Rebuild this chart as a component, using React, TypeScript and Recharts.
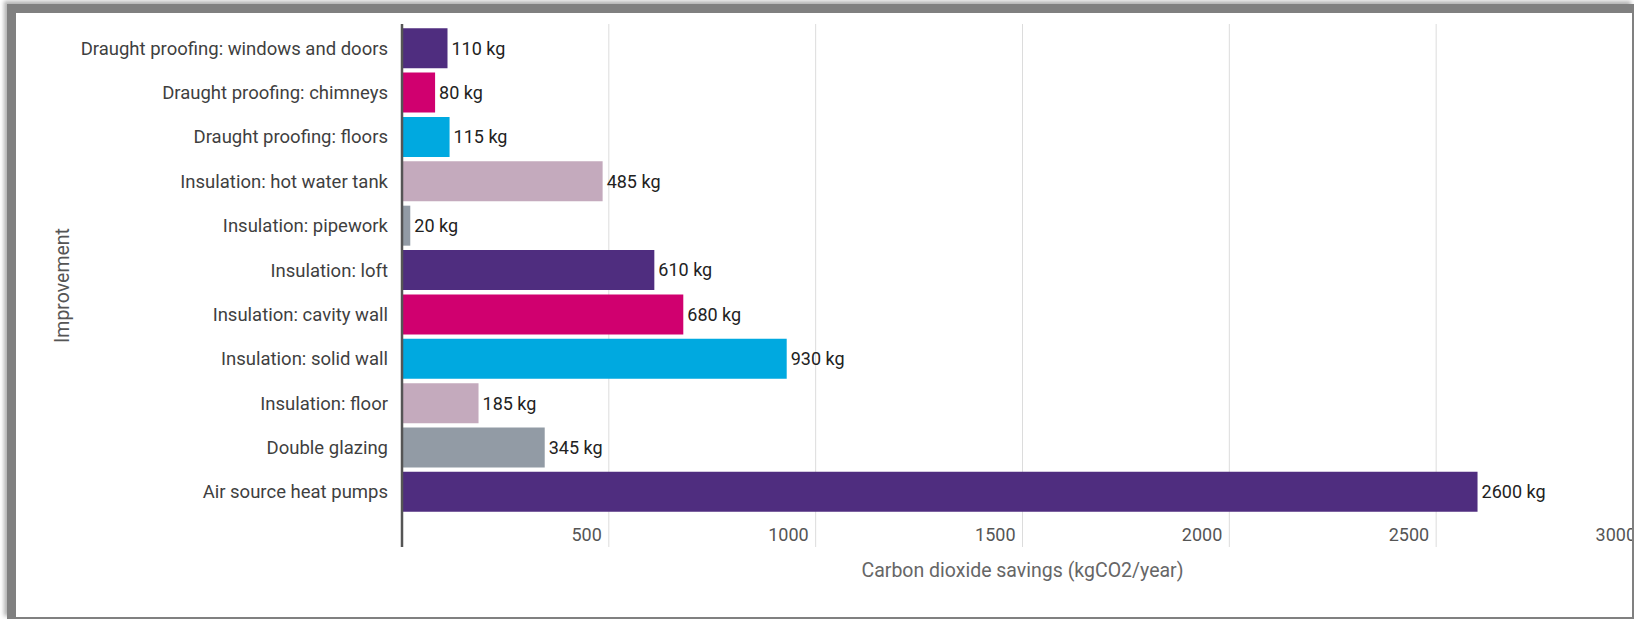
import { BarChart, Bar, XAxis, YAxis, CartesianGrid, Cell, LabelList } from 'recharts';

const improvements = [
    'Draught proofing: windows and doors',
    'Draught proofing: chimneys',
    'Draught proofing: floors',
    'Insulation: hot water tank',
    'Insulation: pipework',
    'Insulation: loft',
    'Insulation: cavity wall',
    'Insulation: solid wall',
    'Insulation: floor',
    'Double glazing',
    'Air source heat pumps',
];

const savingsKg = [110, 80, 115, 485, 20, 610, 680, 930, 185, 345, 2600];

const xTicks = [0, 500, 1000, 1500, 2000, 2500, 3000];

const palette = ['#4F2D7F', '#D0006F', '#00A9E0', '#C4AABD', '#929BA5'];

const data = improvements.map((name, i) => ({ name, value: savingsKg[i] }));

const XTick = ({ x, y, payload }: any) => {
    if (payload.value === 0) return null;
    return (
        <text x={x - 7} y={y - 6} textAnchor="end" fill="#555" fontSize={18}>
            {payload.value}
        </text>
    );
};

const XTitle = ({ viewBox }: any) => (
    <text
        x={viewBox.x + viewBox.width / 2}
        y={viewBox.y + 30}
        textAnchor="middle"
        fill="#666"
        fontSize={19.5}
    >
        Carbon dioxide savings (kgCO2/year)
    </text>
);

const YTitle = ({ viewBox }: any) => {
    const cx = viewBox.x + 62;
    const cy = viewBox.y + viewBox.height / 2;
    return (
        <text
            x={cx}
            y={cy}
            transform={`rotate(-90 ${cx} ${cy})`}
            textAnchor="middle"
            dominantBaseline="central"
            fill="#555"
            fontSize={19.5}
        >
            Improvement
        </text>
    );
};

export default function App() {
    return (
        <div
            style={{
                position: 'fixed',
                left: 0,
                top: 0,
                width: 1634,
                height: 619,
                overflow: 'hidden',
                background: '#fff',
                fontFamily: 'Roboto, sans-serif',
            }}
        >
            {/* screenshot frame */}
            <div
                style={{
                    position: 'absolute',
                    left: 7,
                    top: 4,
                    width: 1616,
                    height: 604,
                    background: '#fff',
                    borderLeft: '9px solid #808080',
                    borderTop: '9px solid #808080',
                    borderRight: '2px solid #808080',
                    borderBottom: '2px solid #808080',
                    boxShadow: '-3px -3px 4px rgba(128,128,128,0.6)',
                }}
            />
            <div style={{ position: 'absolute', left: 0, top: 0, width: 1632, height: 617, overflow: 'hidden' }}>
                <BarChart
                    layout="vertical"
                    width={1660}
                    height={619}
                    data={data}
                    margin={{ top: 24, right: 17, bottom: 32, left: 0 }}
                    barCategoryGap="5%"
                >
                    <CartesianGrid horizontal={false} stroke="#dcdcdc" />
                    <XAxis
                        type="number"
                        domain={[0, 3000]}
                        ticks={xTicks}
                        height={40}
                        axisLine={false}
                        tickLine={false}
                        tickSize={0}
                        tickMargin={0}
                        tick={<XTick />}
                        label={<XTitle />}
                    />
                    <YAxis
                        type="category"
                        dataKey="name"
                        width={402}
                        padding={{ top: 2, bottom: 33 }}
                        axisLine={{ stroke: '#555', strokeWidth: 2.5 }}
                        tickLine={false}
                        tickSize={0}
                        tickMargin={14}
                        tick={{ fill: '#3f3f3f', fontSize: 18.5 }}
                        interval={0}
                        label={<YTitle />}
                    />
                    <Bar dataKey="value" isAnimationActive={false}>
                        {data.map((d, i) => (
                            <Cell key={d.name} fill={palette[i % palette.length]} />
                        ))}
                        <LabelList
                            dataKey="value"
                            position="right"
                            offset={4}
                            fill="#222"
                            fontSize={18}
                            formatter={(v: any) => `${v} kg`}
                        />
                    </Bar>
                </BarChart>
            </div>
        </div>
    );
}
